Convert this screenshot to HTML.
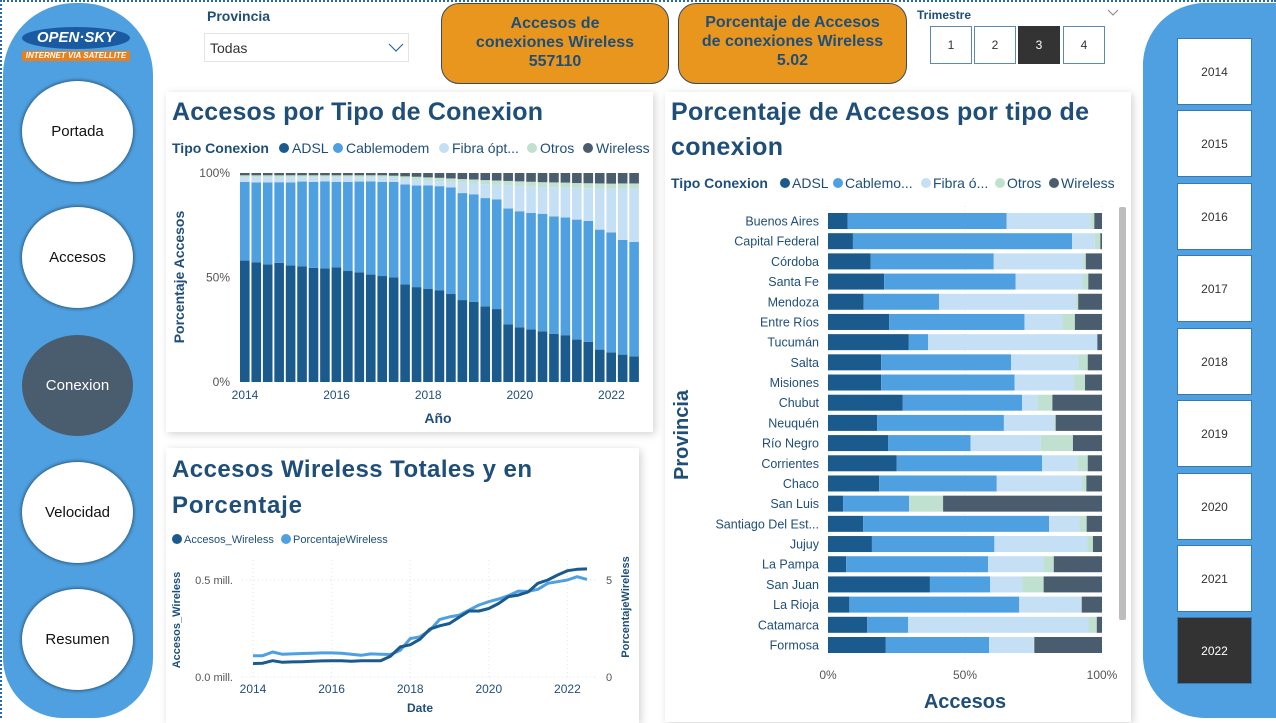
<!DOCTYPE html>
<html><head><meta charset="utf-8">
<style>
html,body{margin:0;padding:0;background:#fff;}
body{width:1276px;height:718px;overflow:hidden;position:relative;font-family:"Liberation Sans",sans-serif;}
.abs{position:absolute;}
.circ{position:absolute;left:22px;width:111px;height:101px;border-radius:50%;background:#fff;box-shadow:0 0 3px 1px rgba(0,0,0,0.45);display:flex;align-items:center;justify-content:center;font-size:15px;color:#111;}
.card{position:absolute;background:#fff;box-shadow:2px 2px 8px rgba(0,0,0,0.18);}
.kpi{position:absolute;top:3px;height:81px;background:#e8961e;border:1px solid #3a4a5a;border-radius:18px;color:#1f4e79;font-weight:bold;font-size:16px;text-align:center;line-height:19px;box-sizing:border-box;padding-top:10px;}
.qb{position:absolute;top:26px;width:42px;height:38px;border:1px solid #5a8ab0;box-sizing:border-box;background:#fff;font-size:12px;color:#333;display:flex;align-items:center;justify-content:center;}
.yb{position:absolute;left:1177px;width:75px;height:67px;border:1px solid #3a78b0;box-sizing:border-box;background:#fff;font-size:12px;color:#333;display:flex;align-items:center;justify-content:center;}
</style></head><body>
<div class="abs" style="left:0;top:0;width:1276px;height:718px;border-top:2px dotted #2a6aa8;border-left:2px dotted #2a6aa8;box-sizing:border-box;"></div>

<div class="abs" style="left:3px;top:3px;width:150px;height:715px;background:#4fa0e0;border-radius:72px 72px 60px 60px;"></div>
<div class="abs" style="left:22px;top:27px;width:108px;height:36px;">
  <div style="position:absolute;left:0;top:0;width:108px;height:22px;border-radius:50%;background:#1a5aa0;color:#fff;font-weight:bold;font-style:italic;font-size:15px;text-align:center;line-height:22px;">OPEN·SKY</div>
  <div style="position:absolute;left:0;top:24px;width:108px;height:10px;background:#e8801e;color:#fff;font-weight:bold;font-style:italic;font-size:8px;text-align:center;line-height:10px;">INTERNET VIA SATELLITE</div>
</div>
<div class="circ" style="top:81px;">Portada</div>
<div class="circ" style="top:207px;">Accesos</div>
<div class="circ" style="top:335px;background:#4a5d6e;color:#fff;box-shadow:none;">Conexion</div>
<div class="circ" style="top:462px;">Velocidad</div>
<div class="circ" style="top:589px;">Resumen</div>

<div class="abs" style="left:207px;top:8px;font-size:14px;font-weight:bold;color:#1f4e79;">Provincia</div>
<div class="abs" style="left:204px;top:33px;width:205px;height:29px;border:1px solid #e4e4e4;box-sizing:border-box;font-size:14px;color:#333;line-height:29px;padding-left:5px;">Todas
 <svg style="position:absolute;right:4px;top:9px" width="16" height="10"><polyline points="1,1 8,8 15,1" fill="none" stroke="#2a6aa8" stroke-width="1.2"/></svg></div>

<div class="kpi" style="left:441px;width:228px;">Accesos de<br>conexiones Wireless<br>557110</div>
<div class="kpi" style="left:678px;width:229px;padding-top:9px;">Porcentaje de Accesos<br>de conexiones Wireless<br>5.02</div>

<div class="abs" style="left:917px;top:8px;font-size:12px;font-weight:bold;color:#1f4e79;">Trimestre</div>
<svg class="abs" style="left:1107px;top:9px" width="12" height="8"><polyline points="1,1 6,6 11,1" fill="none" stroke="#888" stroke-width="1"/></svg>
<div class="qb" style="left:930px;">1</div>
<div class="qb" style="left:974px;">2</div>
<div class="qb" style="left:1018px;background:#333;color:#fff;border-color:#333;">3</div>
<div class="qb" style="left:1063px;">4</div>

<div class="abs" style="left:1143px;top:3px;width:140px;height:715px;background:#4fa0e0;border-radius:62px 0 0 62px / 62px 0 0 62px;"></div>
<div class="abs" style="left:1143px;top:3px;width:133px;height:715px;background:#4fa0e0;border-radius:64px 64px 64px 64px;"></div>
<div class="yb" style="top:38px;">2014</div>
<div class="yb" style="top:110px;">2015</div>
<div class="yb" style="top:183px;">2016</div>
<div class="yb" style="top:255px;">2017</div>
<div class="yb" style="top:328px;">2018</div>
<div class="yb" style="top:400px;">2019</div>
<div class="yb" style="top:473px;">2020</div>
<div class="yb" style="top:545px;">2021</div>
<div class="yb" style="top:617px;background:#333;color:#fff;">2022</div>

<div class="card" style="left:166px;top:92px;width:487px;height:340px;"></div>
<div class="card" style="left:166px;top:448px;width:473px;height:275px;"></div>
<div class="card" style="left:665px;top:92px;width:466px;height:630px;"></div>

<svg id="ch" class="abs" style="left:0;top:0" width="1276" height="718" font-family="Liberation Sans, sans-serif">
 <text x="172" y="120" font-size="25" font-weight="bold" fill="#1f4e79" textLength="371">Accesos por Tipo de Conexion</text>
 <text x="671" y="120" font-size="25" font-weight="bold" fill="#1f4e79" textLength="418">Porcentaje de Accesos por tipo de</text>
 <text x="671" y="155" font-size="25" font-weight="bold" fill="#1f4e79" textLength="112">conexion</text>
 <text x="172" y="477" font-size="24" font-weight="bold" fill="#1f4e79" textLength="360">Accesos Wireless Totales y en</text>
 <text x="172" y="513" font-size="24" font-weight="bold" fill="#1f4e79" textLength="130">Porcentaje</text>
 <g id="g1"></g><g id="g2"></g><g id="g3"></g>
</svg>

<script>
const NS='http://www.w3.org/2000/svg';
function mk(p,t,a,txt){const e=document.createElementNS(NS,t);for(const k in a)e.setAttribute(k,a[k]);if(txt!==undefined)e.textContent=txt;p.appendChild(e);return e;}
const COLORS=['#1a5a8c','#4fa0e0','#c5dff5','#c0e0d0','#4a5d6e'];
const typeNames=['ADSL','Cablemodem','Fibra óptica','Otros','Wireless'];

// ---------- Chart 1 data ----------
const adsl=[58.1,57.3,56.3,57,55.8,55.4,54.6,54.4,54.9,53.1,52.5,51.4,50.7,50.1,46.7,45.4,44.5,43.8,42.1,39.2,38.4,36.2,34.9,27.5,26.2,25.1,24.2,23,22.4,20.3,19.2,15.5,14.2,13.1,12.3];
const cable=[37.6,38.2,39.2,38.6,39.7,40.5,41.1,41.6,40.8,42.6,43.4,44.6,45,45.6,47.8,48.6,49.6,49.9,51,51.2,51.4,51.8,52.5,55.5,55.5,55.8,56.3,56.2,56.3,57.4,57.9,57.4,57.4,54.9,54.7];
const fibra=[2.2,2.4,2.4,2.3,2.4,2.0,2.2,1.9,2.2,2.2,2.0,1.9,2.2,2.0,2.7,2.9,2.3,2.4,2.6,4.9,5.2,6.6,6.9,11.1,12.1,12.7,12.8,14.0,14.4,15.2,15.6,19.7,20.9,24.6,25.6];
const otros=[1,1,1,1,1,1,1,1,1,1,1,1,1,1,1.2,1.3,1.5,1.6,1.7,1.8,1.9,2.0,2.1,2.1,2.2,2.2,2.3,2.3,2.3,2.3,2.4,2.4,2.4,2.4,2.4];
const wireless=[1.1,1.1,1.1,1.1,1.1,1.1,1.1,1.1,1.1,1.1,1.1,1.1,1.1,1.3,1.6,1.8,2.1,2.3,2.6,2.9,3.1,3.4,3.6,3.8,4.0,4.2,4.4,4.5,4.6,4.8,4.9,5.0,5.1,5.0,5.0];
const yearTicks=['2014','2016','2018','2020','2022'];
const pctTicks=[0,50,100];

// ---------- Chart 2 data ----------
const provinces=['Buenos Aires','Capital Federal','Córdoba','Santa Fe','Mendoza','Entre Ríos','Tucumán','Salta','Misiones','Chubut','Neuquén','Río Negro','Corrientes','Chaco','San Luis','Santiago Del Est...','Jujuy','La Pampa','San Juan','La Rioja','Catamarca','Formosa'];
const pAdsl=[7.2,9.1,15.6,20.5,12.9,22.3,29.5,19.4,19.4,27.3,17.9,22,25.1,18.7,5.5,12.8,16,6.6,37.2,7.8,14.3,21.1];
const pCable=[58,80,44.9,48,27.2,49.4,7,47.4,48.7,43.5,46.3,30,53,42.9,24.1,67.9,44.6,51.8,22,62,14.9,37.7];
const pFibra=[30.5,8.3,32.6,24.4,49.3,13.9,61.8,24.6,21.7,5.7,18.4,25.7,13,31.1,0,11.1,33.9,20.2,11.8,22.8,65.7,16.3];
const pOtros=[1.5,2,1,2.1,1,4.5,0,3.4,4,5.4,0.5,11.7,3.7,1.6,12.4,2.6,2,3.8,7.7,0,3,0.2];
const pWireless=[2.8,0.6,5.9,5,8.6,9.9,1.7,5.2,6.2,18.1,16.9,10.6,5.2,5.7,58,5.6,3.3,17.6,21.3,7.4,1.9,24.7];

// ---------- Chart 3 data ----------
const accesosW=[0.069,0.071,0.084,0.076,0.078,0.079,0.081,0.083,0.084,0.084,0.081,0.084,0.084,0.084,0.107,0.155,0.166,0.195,0.247,0.264,0.276,0.309,0.340,0.340,0.353,0.379,0.414,0.422,0.438,0.483,0.500,0.526,0.548,0.555,0.557];
const pctW=[1.10,1.10,1.29,1.17,1.19,1.21,1.22,1.24,1.24,1.22,1.17,1.12,1.19,1.17,1.16,1.38,1.98,2.07,2.41,2.97,3.10,3.19,3.45,3.71,3.88,4.02,4.19,4.43,4.41,4.52,4.83,4.91,5.00,5.17,5.03];
const leftTicks=[0,0.5];
const leftTickLabels=['0.0 mill.','0.5 mill.'];
const rightTicks=[0,5];

// ================= Chart 1 =================
(function(){
 const g=document.getElementById('g1');
 const x0=240,step=11.45,bw=9.6,yTop=173,yBot=382;
 const xq=i=>x0+i*step; const y=v=>yBot-(v/100)*(yBot-yTop);
 // legend
 let t=mk(g,'text',{x:172,y:153,'font-size':14,'font-weight':'bold',fill:'#1f4e79',},'Tipo Conexion');
 const lx=[284,338,444,532,588]; const lt=['ADSL','Cablemodem','Fibra ópt...','Otros','Wireless'];
 lt.forEach((s,i)=>{const c=mk(g,'circle',{cx:lx[i],cy:148,r:5,fill:COLORS[i]});
  const tt=mk(g,'text',{x:lx[i]+8,y:153,'font-size':14,fill:'#1f4e79'},s);});
 // y ticks
 pctTicks.forEach(v=>{const e=mk(g,'text',{x:230,y:y(v)+4,'font-size':12,fill:'#555','text-anchor':'end'},v+'%');});
 yearTicks.forEach((s,i)=>{const e=mk(g,'text',{x:xq(i*8)+5,y:399,'font-size':12,fill:'#1f4e79','text-anchor':'middle'},s);});
 const ya=mk(g,'text',{x:0,y:0,'font-size':14,'font-weight':'bold',fill:'#1f4e79','text-anchor':'middle',transform:'translate(184,277) rotate(-90)'},'Porcentaje Accesos');
 
 const xa=mk(g,'text',{x:438,y:423,'font-size':14,'font-weight':'bold',fill:'#1f4e79','text-anchor':'middle'},'Año');
 
 const series=[adsl,cable,fibra,otros,wireless];
 for(let i=0;i<adsl.length;i++){
  let tot=0;series.forEach(s=>tot+=s[i]);
  let acc=0;
  series.forEach((s,k)=>{const v=s[i]/tot*100;const r=mk(g,'rect',{x:xq(i),y:y(acc+v),width:bw,height:Math.max(0,y(acc)-y(acc+v)),fill:COLORS[k]});
   acc+=v;});
 }
})();

// ================= Chart 2 =================
(function(){
 const g=document.getElementById('g2');
 const x0=828,x1=1102,yc0=221,step=20.19,bh=16;
 const x=v=>x0+(v/100)*(x1-x0);
 mk(g,'text',{x:671,y:188,'font-size':14,'font-weight':'bold',fill:'#1f4e79'},'Tipo Conexion');
 const lx=[785,838,926,1000,1054]; const lt=['ADSL','Cablemo...','Fibra ó...','Otros','Wireless'];
 lt.forEach((s,i)=>{const c=mk(g,'circle',{cx:lx[i],cy:183,r:5,fill:COLORS[i]});
  const tt=mk(g,'text',{x:lx[i]+7,y:188,'font-size':14,fill:'#1f4e79'},s);});
 [0,50,100].forEach(v=>{const l=mk(g,'line',{x1:x(v),x2:x(v),y1:206,y2:660,stroke:'#dde8f2','stroke-dasharray':'1,3'});
  const e=mk(g,'text',{x:x(v),y:679,'font-size':12,fill:'#555','text-anchor':'middle'},v+'%');});
 const series=[pAdsl,pCable,pFibra,pOtros,pWireless];
 provinces.forEach((p,i)=>{const yc=yc0+i*step;
  const e=mk(g,'text',{x:819,y:yc+4.5,'font-size':12.5,fill:'#1f4e79','text-anchor':'end'},p);
  let tot=0;series.forEach(s=>tot+=s[i]);let acc=0;
  series.forEach((s,k)=>{const v=s[i]/tot*100;const r=mk(g,'rect',{x:x(acc),y:yc-bh/2,width:Math.max(0,x(acc+v)-x(acc)),height:bh,fill:COLORS[k]});
   acc+=v;});
 });
 const sb=mk(g,'rect',{x:1119,y:207,width:7,height:413,fill:'#bdbdbd',rx:2});
 const ya=mk(g,'text',{x:0,y:0,'font-size':20,'font-weight':'bold',fill:'#1f4e79','text-anchor':'middle',transform:'translate(688,435) rotate(-90)'},'Provincia');
 
 const xa=mk(g,'text',{x:965,y:708,'font-size':20,'font-weight':'bold',fill:'#1f4e79','text-anchor':'middle'},'Accesos');
 
})();

// ================= Chart 3 =================
(function(){
 const g=document.getElementById('g3');
 const xs=253,qstep=39.3/4,y0=677,y05=580;
 const xq=i=>xs+i*qstep;
 const yl=v=>y0-(v/0.5)*(y0-y05);
 const yr=v=>y0-(v/5)*(y0-y05);
 const c1=mk(g,'circle',{cx:177,cy:539,r:5,fill:'#1a5a8c'});
 const t1=mk(g,'text',{x:184,y:543,'font-size':11,fill:'#1f4e79'},'Accesos_Wireless');
 const c2=mk(g,'circle',{cx:286,cy:539,r:5,fill:'#4fa0e0'});
 const t2=mk(g,'text',{x:293,y:543,'font-size':11,fill:'#1f4e79'},'PorcentajeWireless');
 leftTicks.forEach((v,i)=>{const l=mk(g,'line',{x1:242,x2:595,y1:yl(v),y2:yl(v),stroke:'#d8e6f2','stroke-dasharray':'1,3'});
  const e=mk(g,'text',{x:233,y:yl(v)+4,'font-size':11,fill:'#555','text-anchor':'end'},leftTickLabels[i]);});
 rightTicks.forEach((v,i)=>{const e=mk(g,'text',{x:606,y:yr(v)+4,'font-size':11,fill:'#555'},String(v));});
 yearTicks.forEach((s,i)=>{const gx=xq(i*8);
  const l=mk(g,'line',{x1:gx,x2:gx,y1:560,y2:677,stroke:'#d8e6f2','stroke-dasharray':'1,3'});
  const e=mk(g,'text',{x:gx,y:693,'font-size':12,fill:'#1f4e79','text-anchor':'middle'},s);});
 const ptsP=pctW.map((v,i)=>xq(i).toFixed(1)+','+yr(v).toFixed(1)).join(' ');
 const lp=mk(g,'polyline',{points:ptsP,fill:'none',stroke:'#4fa0e0','stroke-width':3,'stroke-linejoin':'round'});
 const ptsA=accesosW.map((v,i)=>xq(i).toFixed(1)+','+yl(v).toFixed(1)).join(' ');
 const la=mk(g,'polyline',{points:ptsA,fill:'none',stroke:'#1a5a8c','stroke-width':3,'stroke-linejoin':'round'});
 const ya=mk(g,'text',{x:0,y:0,'font-size':11,'font-weight':'bold',fill:'#1f4e79','text-anchor':'middle',transform:'translate(180,620) rotate(-90)'},'Accesos_Wireless');
 
 const yb=mk(g,'text',{x:0,y:0,'font-size':11,'font-weight':'bold',fill:'#1f4e79','text-anchor':'middle',transform:'translate(629,607) rotate(-90)'},'PorcentajeWireless');
 
 const xa=mk(g,'text',{x:420,y:712,'font-size':12,'font-weight':'bold',fill:'#1f4e79','text-anchor':'middle'},'Date');
 
})();
</script>
</body></html>
